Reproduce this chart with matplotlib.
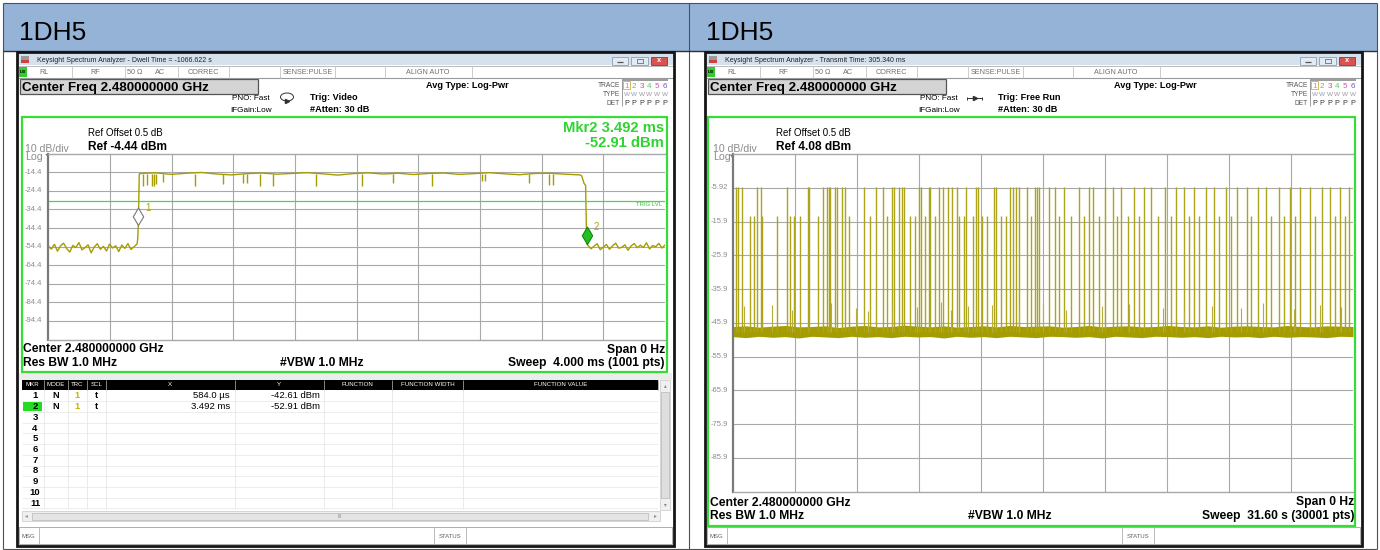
import numpy as np
import matplotlib
matplotlib.use("Agg")
import matplotlib.pyplot as plt
from matplotlib.patches import Rectangle, Polygon, Ellipse
from matplotlib.path import Path

plt.rcParams["font.family"] = ["Liberation Sans", "DejaVu Sans"]

W, H = 1380, 550

# ---------------- left capture: dwell time, 0 Hz span, 4 ms sweep
left_ref = -4.44
left_sweep = 4.0  # ms
left_yticks = ["-14.4", "-24.4", "-34.4", "-44.4", "-54.4", "-64.4", "-74.4", "-84.4", "-94.4"]
trig_level = -30.0
pre_v = [-54.1, -55.8, -53.2, -56.9, -54.0, -52.6, -55.5, -57.4, -53.8, -54.9,
         -52.3, -56.2, -55.0, -53.5, -57.8, -54.6, -52.9, -55.9, -54.3, -56.8,
         -53.1, -55.2, -54.0, -57.1, -53.6, -55.4, -52.8, -56.0, -54.5, -53.0]
top_v = [-15.1, -14.8, -15.6, -15.0, -14.6, -15.4, -15.9, -15.2, -14.9, -15.5,
         -15.1, -14.7, -15.3, -16.0, -15.2, -14.8, -15.4, -15.0, -15.7, -15.1,
         -14.9, -15.6, -15.2, -14.7, -15.3, -15.8, -15.1, -15.0, -15.5, -15.9]
post_v = [-53.8, -55.6, -54.2, -52.9, -56.1, -54.7, -53.3, -55.9, -54.0, -52.6,
          -55.3, -54.8, -53.5, -56.4, -54.1, -52.8, -55.0, -53.7, -54.9, -52.4,
          -55.7, -53.9, -54.5, -52.7, -55.2, -53.6]
edge_t = [0.58, 0.584, 0.59, 3.46, 3.475, 3.485, 3.492]
edge_v = [-50.0, -42.61, -15.4, -16.5, -20.5, -21.5, -52.91]
dip_t = [0.614, 0.640, 0.673, 0.686, 0.699, 0.744, 0.952, 1.133, 1.263, 1.289,
         1.373, 1.458, 1.737, 2.035, 2.236, 2.489, 2.813, 2.833, 3.118, 3.248, 3.274]
dip_v = [-22.0, -21.5, -22.0, -22.0, -21.0, -19.5, -22.0, -21.0, -20.0, -20.0,
         -22.0, -22.0, -22.0, -22.0, -20.0, -22.0, -19.0, -19.0, -20.0, -21.5, -21.5]
markers_t = [0.584, 3.492]
markers_v = [-42.61, -52.91]

# ---------------- right capture: transmit time, 31.6 s sweep
right_ref = 4.08
right_sweep = 31.6  # s
right_yticks = ["-5.92", "-15.9", "-25.9", "-35.9", "-45.9", "-55.9", "-65.9", "-75.9", "-85.9"]
floor_hi = [-47.0, -46.8, -47.2, -46.9, -46.7, -47.1, -47.0, -46.8, -47.3, -46.9, -46.7, -47.1,
            -47.0, -46.6, -46.9, -47.1, -46.8, -47.2, -47.0, -46.8, -47.1, -46.7, -47.0, -46.9,
            -46.8, -47.2, -47.0, -46.7, -47.1, -46.9, -46.8, -47.1, -47.0, -46.7, -47.0, -47.1,
            -46.8, -47.2, -46.9, -46.8, -47.0, -47.1, -46.7, -47.0, -47.1, -46.8, -46.9, -47.0]
floor_lo = [-50.0, -50.3, -49.9, -50.2, -50.0, -50.4, -49.9, -50.1, -50.3, -49.9, -50.2, -50.0,
            -50.3, -49.9, -50.1, -50.0, -50.4, -49.9, -50.2, -50.0, -50.3, -49.9, -50.1, -50.3,
            -49.9, -50.0, -50.2, -50.0, -50.4, -49.9, -50.1, -50.3, -49.9, -50.0, -50.2, -50.0,
            -50.3, -49.9, -50.1, -50.0, -50.3, -49.9, -50.2, -50.0, -50.1, -50.3, -49.9, -50.0]
tall_t = [0.15, 0.26, 0.47, 1.22, 1.44, 2.76, 3.83, 3.91, 4.59, 4.80, 4.90, 4.98, 5.19, 5.31,
          5.59, 5.70, 6.70, 7.31, 7.64, 8.09, 8.23, 8.49, 8.64, 8.74, 9.51, 9.61, 9.98, 10.07,
          10.49, 10.70, 10.97, 11.19, 11.43, 11.89, 12.40, 12.48, 13.30, 13.40, 14.11, 14.27,
          14.44, 14.58, 14.97, 15.41, 15.51, 15.62, 16.09, 16.40, 16.86, 17.62, 18.13, 18.34,
          18.95, 19.36, 19.76, 20.43, 20.94, 21.30, 22.01, 22.57, 22.98, 23.49, 24.10, 24.51,
          25.12, 25.68, 26.19, 26.75, 27.16, 27.82, 28.38, 28.89, 29.40, 30.02, 30.42, 30.93, 31.39]
mid_t = [0.88, 1.09, 1.51, 2.28, 2.92, 3.13, 3.43, 4.34, 5.93, 7.01, 7.86, 9.01, 9.27, 9.81,
         10.32, 11.55, 11.80, 12.23, 12.71, 12.96, 13.68, 13.90, 15.22, 16.60, 17.21, 17.88,
         18.64, 19.56, 20.12, 20.68, 21.65, 22.31, 23.23, 23.74, 24.76, 25.37, 26.39, 27.41,
         28.07, 28.64, 29.66, 30.68, 31.19]
low_t = [0.6, 2.0, 3.0, 5.0, 6.3, 6.9, 8.1, 9.4, 10.6, 11.1, 12.0, 13.2, 14.6, 15.8, 17.0,
         18.8, 20.2, 21.9, 23.0, 24.4, 25.9, 27.0, 28.6, 29.9, 31.0]
low_v = [-41.0, -40.5, -42.0, -40.0, -41.5, -42.5, -40.8, -41.2, -39.8, -42.0, -41.0, -40.6,
         -41.8, -40.2, -42.2, -41.0, -40.4, -41.6, -42.0, -40.8, -41.4, -40.1, -41.9, -40.7, -41.3]
tall_level = -5.6
mid_level = -14.4
floor_mid = -48.5

TRACE = "#a59d00"
GREEN = "#37dc37"
GRID = "#a8a8a8"
GRAY = "#8c8c8c"

fig = plt.figure(figsize=(W / 100, H / 100), dpi=100)
ui = fig.add_axes([0, 0, 1, 1])
ui.set_xlim(0, W)
ui.set_ylim(H, 0)
ui.axis("off")


def px(x0, y0, x1, y1):
    return [x0 / W, 1 - y1 / H, (x1 - x0) / W, (y1 - y0) / H]


def box(x0, y0, x1, y1, fc="none", ec="none", lw=0.7, z=1):
    ui.add_patch(Rectangle((x0, y0), x1 - x0, y1 - y0, facecolor=fc,
                           edgecolor=ec, linewidth=lw, zorder=z))


def line(xs, ys, c, lw=0.7, z=3):
    ui.plot(xs, ys, color=c, lw=lw, zorder=z, solid_capstyle="butt")


def txt(x, y, s, size, ha="left", c="black", bold=False, va="baseline", z=5):
    ui.text(x, y, s, fontsize=size, ha=ha, va=va, color=c,
            fontweight="bold" if bold else "normal", zorder=z)


# page table: blue header cells and borders
box(3, 3, 1377, 51, fc="#95b3d7")
for xx in (3, 689, 1377):
    line([xx, xx], [2.5, 549], "#505050", 0.8)
line([3, 1377], [2.8, 2.8], "#505050", 0.8)
line([3, 1377], [51, 51], "#303030", 1.0)
line([3, 1377], [549, 549], "#505050", 0.8)
txt(19, 40.5, "1DH5", 19)
txt(706, 40.5, "1DH5", 19)


def chrome(x0, title, trig, freerun, fl, bottom):
    x1 = x0 + 657
    box(x0, 52, x1, 546, fc="white", z=1)
    # title bar
    box(x0 + 1, 53, x1 - 1, 65, fc="#d6e1ee", z=2)
    box(x0 + 4, 56, x0 + 12, 63, fc="#9a9a9a", z=3)
    box(x0 + 4, 60, x0 + 12, 63, fc="#cc4040", z=3)
    txt(x0 + 20, 62, title, 5.0, c="#222222")
    box(x0 + 595, 57, x0 + 611, 64.5, fc="#e2eaf3", ec="#8c9db3", lw=0.6, z=3)
    line([x0 + 600, x0 + 606], [61.5, 61.5], "#555555", 0.9, 4)
    box(x0 + 614, 57, x0 + 631, 64.5, fc="#e2eaf3", ec="#8c9db3", lw=0.6, z=3)
    box(x0 + 620, 59, x0 + 626, 63, ec="#555555", lw=0.5, z=4)
    box(x0 + 634, 57, x0 + 650, 64.5, fc="#d9534f", ec="#a03030", lw=0.6, z=3)
    txt(x0 + 642, 61, "x", 5.5, ha="center", c="white", bold=True, va="center")
    # status row
    line([x0 + 1, x1 - 1], [65.5, 65.5], "#b0b0b0", 0.6)
    line([x0 + 1, x1 - 1], [78, 78], "#9a9a9a", 0.8)
    box(x0 + 2, 66.5, x0 + 10, 76.5, fc="#33cc33", z=3)
    txt(x0 + 6, 72, "LXI", 3.0, ha="center", bold=True, va="center")
    for s in (55, 108, 161, 212, 263, 318, 368, 455):
        line([x0 + s, x0 + s], [66, 78], "#c4c4c4", 0.6)
    for s, xx, ha in (("RL", 22, "left"), ("RF", 78, "center"), ("50 \u03a9", 110, "left"),
                      ("AC", 138, "left"), ("CORREC", 186, "center"),
                      ("SENSE:PULSE", 291, "center"), ("ALIGN AUTO", 411, "center")):
        txt(x0 + xx, 74.5, s, 5.2, ha=ha, c="#707070")
    # centre frequency box
    box(x0 + 3, 79, x0 + 241, 94, fc="#d4d4d4", ec="#555555", lw=0.9, z=2)
    txt(x0 + 5, 91, "Center Freq 2.480000000 GHz", 9.6, bold=True)
    txt(x0 + 253, 100.5, "PNO: Fast", 5.9, ha="right")
    txt(x0 + 255, 112.5, "IFGain:Low", 5.9, ha="right")
    if freerun:
        line([x0 + 262, x0 + 277], [98, 98], "#333333", 0.7)
        ui.plot([x0 + 270], [98], marker=">", ms=3, color="#333333", zorder=4)
        line([x0 + 262, x0 + 262], [96.5, 99.5], "#333333", 0.7)
        line([x0 + 277, x0 + 277], [96.5, 99.5], "#333333", 0.7)
    else:
        ui.add_patch(Ellipse((x0 + 270, 97), 13, 8, fill=False, ec="#333333", lw=0.7, zorder=4))
        ui.plot([x0 + 270], [101], marker=">", ms=3, color="#333333", zorder=5)
    txt(x0 + 293, 100, trig, 6.6, bold=True)
    txt(x0 + 293, 112.5, "#Atten: 30 dB", 6.6, bold=True)
    txt(x0 + 409, 88.5, "Avg Type: Log-Pwr", 6.6, bold=True)
    # trace indicator block
    line([x0 + 605, x0 + 651], [79.5, 79.5], "#8a8a8a", 1.2)
    line([x0 + 604.5, x0 + 604.5], [79.5, 106], "#8a8a8a", 0.6)
    txt(x0 + 603, 87, "TRACE", 4.8, ha="right", c="#555555")
    txt(x0 + 603, 96, "TYPE", 4.8, ha="right", c="#555555")
    txt(x0 + 603, 105, "DET", 4.8, ha="right", c="#555555")
    cols = ["#d89a10", "#2cc6c6", "#d83cd8", "#55cc55", "#cc55cc", "#7a4fd6"]
    for i, c in enumerate(cols):
        xx = x0 + 609.5 + i * 7.6
        txt(xx, 87.5, str(i + 1), 5.8, ha="center", c=c)
        txt(xx, 96, "W", 4.6, ha="center", c="#9a9a9a")
        txt(xx, 105, "P", 5.2, ha="center", c="#333333")
    box(x0 + 606, 81, x0 + 613, 88.5, ec="#d89a10", lw=0.5, z=3)
    # green measurement frame
    box(x0 + fl, 117, x0 + 649.5, bottom, ec=GREEN, lw=1.6, z=6)
    # message bar
    box(x0 + 2, 527, x1 - 2, 544, fc="white", ec="#a0a0a0", lw=0.6, z=2)
    line([x0 + 22, x0 + 22], [527, 544], "#b0b0b0", 0.6)
    line([x0 + 417, x0 + 417], [527, 544], "#b0b0b0", 0.6)
    line([x0 + 449, x0 + 449], [527, 544], "#b0b0b0", 0.6)
    txt(x0 + 4, 538, "MSG", 4.3, c="#606060")
    txt(x0 + 433, 538, "STATUS", 4.3, ha="center", c="#606060")
    # black capture border
    box(x0, 51.5, x1, 546, ec="#151515", lw=2.0, z=7)


chrome(17, "Keysight Spectrum Analyzer - Dwell Time = -1066.622 s", "Trig: Video", False, 4.7, 371.5)
chrome(705, "Keysight Spectrum Analyzer - Transmit Time: 305.340 ms", "Trig: Free Run", True, 2.6, 526)

# ---------------- marker table (left capture)
box(19, 373, 672, 380, fc="#ececec", z=2)
box(660, 380, 670, 510, fc="#f0f0f0", ec="#c8c8c8", lw=0.5, z=2)
box(661, 392, 669, 498, fc="#dedede", ec="#b8b8b8", lw=0.5, z=3)
txt(665, 386, "\u25b4", 4, ha="center", c="#888888", va="center")
txt(665, 505, "\u25be", 4, ha="center", c="#888888", va="center")
box(22, 511, 660, 521, fc="#f0f0f0", ec="#c8c8c8", lw=0.5, z=2)
box(32, 512.5, 648, 519.5, fc="#e4e4e4", ec="#b8b8b8", lw=0.5, z=3)
txt(340, 516, "III", 3.5, ha="center", c="#888888", va="center")
txt(26, 516, "\u25c2", 4, ha="center", c="#888888", va="center")
txt(655, 516, "\u25b8", 4, ha="center", c="#888888", va="center")

col_edges = [22, 43.6, 67.6, 87, 106, 234.5, 323.5, 392, 463, 658]
col_names = ["MKR", "MODE", "TRC", "SCL", "X", "Y", "FUNCTION", "FUNCTION WIDTH", "FUNCTION VALUE"]
box(22, 380, 658, 390, fc="black", z=3)
for i, name in enumerate(col_names):
    cx = (col_edges[i] + col_edges[i + 1]) / 2
    txt(cx, 385, name, 4.4, ha="center", c="white", va="center", z=6)
    line([col_edges[i + 1], col_edges[i + 1]], [380, 390], "#9a9a9a", 0.6, 4)
row_h = 10.7
for r in range(11):
    yc = 396 + r * row_h
    line([22, 658], [yc + row_h / 2, yc + row_h / 2], "#e6e6e6", 0.5)
    txt(35, yc, str(r + 1), 6.8, ha="center", bold=True, va="center", z=6)
for e in col_edges[1:-1]:
    line([e, e], [390, 509], "#e2e2e2", 0.5)
box(23, 401.5, 42, 411, fc="#22dd22", z=3)
rows = [("N", "1", "t", "584.0 \u00b5s", "-42.61 dBm"), ("N", "1", "t", "3.492 ms", "-52.91 dBm")]
for r, (mode, trc, scl, xv, yv) in enumerate(rows):
    yc = 396 + r * row_h
    txt(55.5, yc, mode, 6.6, ha="center", bold=True, va="center")
    txt(77, yc, trc, 6.6, ha="center", bold=True, va="center", c="#c8b400")
    txt(96, yc, scl, 6.6, ha="center", bold=True, va="center")
    txt(230, yc, xv, 6.8, ha="right", va="center")
    txt(320, yc, yv, 6.8, ha="right", va="center")


# ---------------- measurement graticules
def graticule(ax, xmax, ref, ticks, lab_x, y_top, y_bot):
    ax.set_xlim(0, xmax)
    ax.set_ylim(ref - 100, ref)
    ax.set_xticks(np.linspace(0, xmax, 11)[1:-1])
    ax.set_yticks([ref - 10 * k for k in range(1, 10)])
    ax.tick_params(length=0, labelbottom=False, labelleft=False)
    ax.grid(True, color=GRID, lw=0.8)
    ax.set_axisbelow(True)
    ax.spines["left"].set_color("#7a7a7a")
    ax.spines["left"].set_linewidth(1.6)
    for s in ("top", "bottom"):
        ax.spines[s].set_color(GRID)
        ax.spines[s].set_linewidth(1.0)
    ax.spines["right"].set_visible(False)
    step = (y_bot - y_top) / 10
    for k, lab in enumerate(ticks):
        txt(lab_x, y_top + step * (k + 1), lab, 5.5, c=GRAY, va="center", z=8)


axL = fig.add_axes(px(48.3, 153.6, 665, 339.6))
graticule(axL, left_sweep, left_ref, left_yticks, 25, 153.6, 339.6)
pre_t = np.linspace(0, 0.576, len(pre_v))
top_t = np.linspace(0.6, 3.45, len(top_v))
post_t = np.linspace(3.5, 4.0, len(post_v))
tL = np.concatenate([pre_t, edge_t[:3], top_t, edge_t[3:], post_t])
vL = np.concatenate([pre_v, edge_v[:3], top_v, edge_v[3:], post_v])
axL.plot(tL, vL, color=TRACE, lw=1.0)
axL.vlines(dip_t, dip_v, -15.2, color=TRACE, lw=1.0)
axL.axhline(trig_level, color="#55d055", lw=0.9)
axL.text(0.995, 0.715, "TRIG LVL", transform=axL.transAxes, ha="right", va="bottom",
         fontsize=4.3, color="#44c044")
tip = Path([(0, 0), (0.3, 0.5), (0, 1), (-0.3, 0.5), (0, 0)], closed=True)
axL.plot(markers_t[0], markers_v[0], marker=tip, ms=25, mfc="white", mec="#777777",
         mew=0.8, clip_on=False, zorder=5)
axL.plot(markers_t[1], markers_v[1], marker=tip, ms=25, mfc="#22c022", mec="#118811",
         mew=0.8, clip_on=False, zorder=5)
for k in range(2):
    axL.annotate(str(k + 1), (markers_t[k], markers_v[k]), xytext=(5, 10),
                 textcoords="offset points", fontsize=7, color="#b0a400")

axR = fig.add_axes(px(732.7, 154, 1353, 491.7))
graticule(axR, right_sweep, right_ref, right_yticks, 711, 154, 491.7)
floor_t = np.linspace(0, right_sweep, len(floor_hi))
axR.fill_between(floor_t, floor_lo, floor_hi, color=TRACE, lw=0)
axR.vlines(tall_t, floor_mid, tall_level, color="#aca41a", lw=1.0)
axR.vlines(mid_t, floor_mid, mid_level, color="#aca41a", lw=1.0)
axR.vlines(low_t, floor_mid, low_v, color="#b4ad3a", lw=0.8)

# Log marker triangles on the left axes
for xx, yy in ((48.3, 156), (732.7, 156.5)):
    ui.add_patch(Polygon([[xx - 3, yy - 2], [xx + 3, yy - 2], [xx, yy + 2]], closed=True,
                         fc="#7a7a7a", ec="none", zorder=8))

# ---------------- texts inside the frames
for x0, ref in ((17, "Ref -4.44 dBm"), (705, "Ref 4.08 dBm")):
    txt(x0 + 71, 136.5, "Ref Offset 0.5 dB", 7.0)
    txt(x0 + 71, 149.5, ref, 8.6, bold=True)
    txt(x0 + 8, 152, "10 dB/div", 7.6, c=GRAY, z=8)
    txt(x0 + 8, 159.5, "Log", 7.6, c=GRAY, z=8)
txt(664, 132, "Mkr2 3.492 ms", 10.6, ha="right", c="#2fd42f", bold=True, z=9)
txt(664, 147, "-52.91 dBm", 10.6, ha="right", c="#2fd42f", bold=True, z=9)

for x0, x1, b1, b2, sweep in ((23, 665, 352.5, 366, "Sweep  4.000 ms (1001 pts)"),
                              (710, 1354, 505.5, 519, "Sweep  31.60 s (30001 pts)")):
    txt(x0, b1, "Center 2.480000000 GHz", 8.7, bold=True, z=8)
    txt(x1, b1, "Span 0 Hz", 8.7, ha="right", bold=True, z=8)
    txt(x0, b2, "Res BW 1.0 MHz", 8.7, bold=True, z=8)
    txt((x0 + x1) / 2 - 22, b2, "#VBW 1.0 MHz", 8.7, ha="center", bold=True, z=8)
    txt(x1, b2, sweep, 8.7, ha="right", bold=True, z=8)

fig.savefig("out.png", dpi=100)
